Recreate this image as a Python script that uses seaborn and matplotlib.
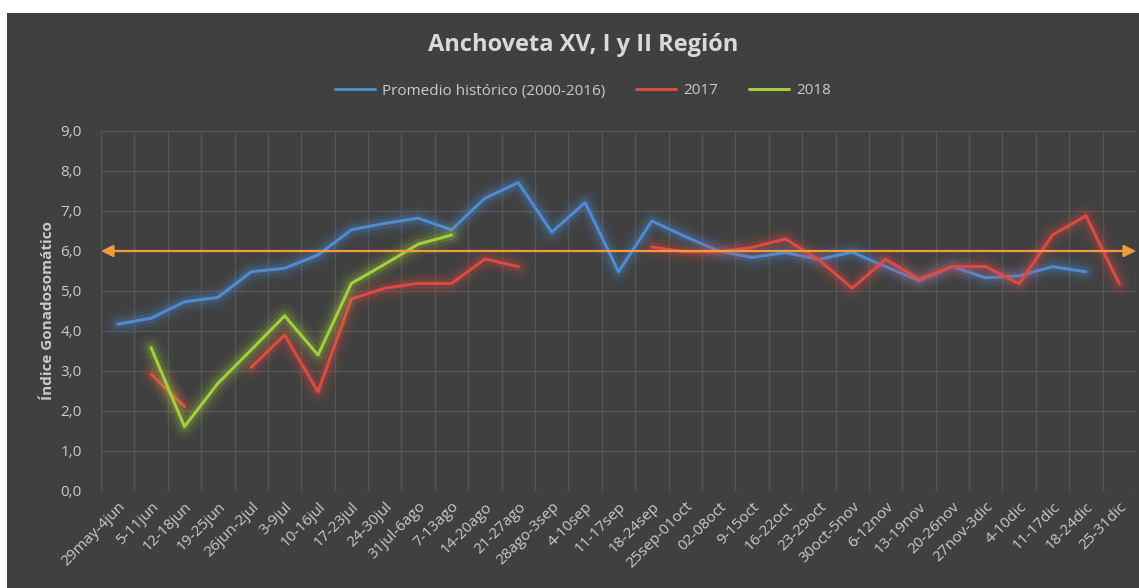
import seaborn as sns
import pandas as pd
import numpy as np
import matplotlib.pyplot as plt
import matplotlib.patheffects as pe
from matplotlib.patches import Rectangle
from matplotlib.lines import Line2D

semanas = ['29may-4jun', '5-11jun', '12-18jun', '19-25jun', '26jun-2jul', '3-9jul', '10-16jul',
           '17-23jul', '24-30jul', '31jul-6ago', '7-13ago', '14-20ago', '21-27ago', '28ago-3sep',
           '4-10sep', '11-17sep', '18-24sep', '25sep-01oct', '02-08oct', '9-15oct', '16-22oct',
           '23-29oct', '30oct-5nov', '6-12nov', '13-19nov', '20-26nov', '27nov-3dic', '4-10dic',
           '11-17dic', '18-24dic', '25-31dic']

nan = np.nan
promedio = [4.17, 4.32, 4.73, 4.84, 5.48, 5.57, 5.90, 6.53, 6.69, 6.82, 6.53, 7.32, 7.71, 6.47,
            7.21, 5.48, 6.75, 6.36, 6.00, 5.84, 5.96, 5.79, 5.97, 5.61, 5.26, 5.61, 5.33, 5.38,
            5.61, 5.48, nan]
anio2017 = [nan, 2.92, 2.11, nan, 3.09, 3.90, 2.48, 4.80, 5.07, 5.19, 5.19, 5.80, 5.61, nan,
            nan, nan, 6.10, 5.98, 5.98, 6.09, 6.30, 5.78, 5.07, 5.79, 5.30, 5.61, 5.61, 5.18,
            6.40, 6.88, 5.18]
anio2018 = [nan, 3.58, 1.61, 2.69, 3.53, 4.38, 3.40, 5.19, 5.67, 6.17, 6.40] + [nan] * 20
umbral = 6.0

series = {'Promedio histórico (2000-2016)': promedio, '2017': anio2017, '2018': anio2018}
colores = {'Promedio histórico (2000-2016)': '#4F8BD3', '2017': '#DC4A43', '2018': '#A3CF3E'}
naranja = '#F39A3B'
fondo = '#404040'
texto = '#CACACA'

# tabla larga, con un id de tramo para cortar las lineas donde faltan datos
filas = []
for nombre, vals in series.items():
    tramo = 0
    previo = False
    for i, v in enumerate(vals):
        if np.isnan(v):
            previo = False
            continue
        if not previo:
            tramo += 1
        previo = True
        filas.append({'x': i, 'valor': v, 'serie': nombre, 'tramo': f'{nombre}-{tramo}'})
df = pd.DataFrame(filas)

sns.set_theme(style='dark')
plt.rcParams['font.family'] = ['Open Sans', 'DejaVu Sans']

fig = plt.figure(figsize=(11.39, 5.88), dpi=100)
fig.patch.set_facecolor('white')
fig.patches.append(Rectangle((7 / 1139, 0), 1 - 7 / 1139, 1 - 13 / 588, transform=fig.transFigure,
                             facecolor=fondo, edgecolor='none', zorder=-10))
ax = fig.add_axes([101 / 1139, 97 / 588, 1035 / 1139, 360 / 588])
ax.set_facecolor(fondo)

sns.lineplot(data=df, x='x', y='valor', hue='serie', units='tramo', estimator=None,
             palette=colores, linewidth=2.2, legend=False, ax=ax)

for linea in ax.lines:
    c = linea.get_color()
    linea.set_path_effects([pe.Stroke(linewidth=18, foreground=c, alpha=0.06),
                            pe.Stroke(linewidth=12, foreground=c, alpha=0.10),
                            pe.Stroke(linewidth=7, foreground=c, alpha=0.18),
                            pe.Normal()])

ax.annotate('', xy=(1, umbral), xytext=(0, umbral), xycoords=('axes fraction', 'data'),
            arrowprops=dict(arrowstyle='<|-|>', color=naranja, lw=1.6, mutation_scale=18,
                            shrinkA=0, shrinkB=0), zorder=5)

ax.set_xlim(-0.5, len(semanas) - 0.5)
ax.set_ylim(0, 9)
ax.set_yticks(np.arange(0, 9.1, 1))
ax.set_yticklabels([f'{v:.1f}'.replace('.', ',') for v in np.arange(0, 9.1, 1)],
                   color=texto, fontsize=11)
ax.set_xticks(range(len(semanas)))
ax.set_xticklabels(semanas, rotation=45, ha='right', rotation_mode='anchor', color=texto, fontsize=11)
ax.set_xticks(np.arange(-0.5, len(semanas), 1), minor=True)
ax.tick_params(axis='both', which='both', length=0)
ax.tick_params(axis='y', pad=14)
ax.tick_params(axis='x', pad=6)
ax.grid(True, which='major', axis='y', color='#555555', linewidth=1)
ax.grid(True, which='minor', axis='x', color='#555555', linewidth=1)
ax.grid(False, which='major', axis='x')
for s in ax.spines.values():
    s.set_visible(False)
ax.set_xlabel('')
ax.set_ylabel('Índice Gonadosomático', color=texto, fontsize=11, fontweight='bold', labelpad=4)

fig.text(0.512, 1 - 45 / 588, 'Anchoveta XV, I y II Región', ha='center', va='center',
         color='#D9D9D9', fontsize=17, fontweight='bold')

manejadores = [Line2D([0], [0], color=c, lw=2.2) for c in colores.values()]
fig.legend(manejadores, list(colores.keys()), loc='center', bbox_to_anchor=(0.512, 1 - 91 / 588),
           ncol=3, frameon=False, fontsize=11, labelcolor=texto, handlelength=2.6,
           columnspacing=2.0, handletextpad=0.5)

fig.savefig('out.png', dpi=100, facecolor=fig.get_facecolor())
